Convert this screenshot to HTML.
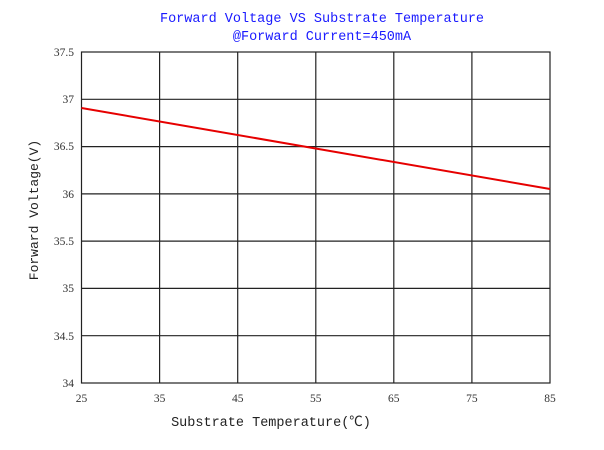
<!DOCTYPE html>
<html><head><style>
body{margin:0;background:#fff;width:604px;height:445px;overflow:hidden}
</style></head><body>
<svg width="604" height="445" xmlns="http://www.w3.org/2000/svg" font-family="'Liberation Serif','Noto Serif CJK SC',serif">
<rect width="604" height="445" fill="#fff"/>
<text x="322" y="22" text-anchor="middle" fill="#1a1aff" font-size="13.5" font-family="'Liberation Mono',monospace">Forward Voltage VS Substrate Temperature</text>
<text x="322" y="40" text-anchor="middle" fill="#1a1aff" font-size="13.5" font-family="'Liberation Mono',monospace">@Forward Current=450mA</text>
<g stroke="#222" stroke-width="1.2" fill="none">
<rect x="81.5" y="52" width="468.5" height="331"/>
<line x1="159.6" y1="52" x2="159.6" y2="383"/>
<line x1="237.7" y1="52" x2="237.7" y2="383"/>
<line x1="315.8" y1="52" x2="315.8" y2="383"/>
<line x1="393.8" y1="52" x2="393.8" y2="383"/>
<line x1="471.9" y1="52" x2="471.9" y2="383"/>
<line x1="81.5" y1="99.3" x2="550" y2="99.3"/>
<line x1="81.5" y1="146.6" x2="550" y2="146.6"/>
<line x1="81.5" y1="193.9" x2="550" y2="193.9"/>
<line x1="81.5" y1="241.1" x2="550" y2="241.1"/>
<line x1="81.5" y1="288.4" x2="550" y2="288.4"/>
<line x1="81.5" y1="335.7" x2="550" y2="335.7"/>
</g>
<line x1="81.5" y1="108" x2="550" y2="189" stroke="#e60000" stroke-width="2"/>
<g font-size="11.5" fill="#333" text-anchor="end">
<text x="74" y="56">37.5</text><text x="74" y="103">37</text><text x="74" y="150">36.5</text>
<text x="74" y="198">36</text><text x="74" y="245">35.5</text><text x="74" y="292">35</text>
<text x="74" y="340">34.5</text><text x="74" y="387">34</text>
</g>
<g font-size="11.5" fill="#333" text-anchor="middle">
<text x="81.5" y="402">25</text><text x="159.6" y="402">35</text><text x="237.7" y="402">45</text>
<text x="315.8" y="402">55</text><text x="393.8" y="402">65</text><text x="471.9" y="402">75</text><text x="550" y="402">85</text>
</g>
<text x="271" y="426" text-anchor="middle" font-size="13.5" fill="#222" font-family="'Liberation Mono','Noto Sans CJK SC',monospace">Substrate Temperature(℃)</text>
<text transform="translate(38,210) rotate(-90)" text-anchor="middle" font-size="13" fill="#222" font-family="'Liberation Mono',monospace">Forward Voltage(V)</text>
</svg>
</body></html>
